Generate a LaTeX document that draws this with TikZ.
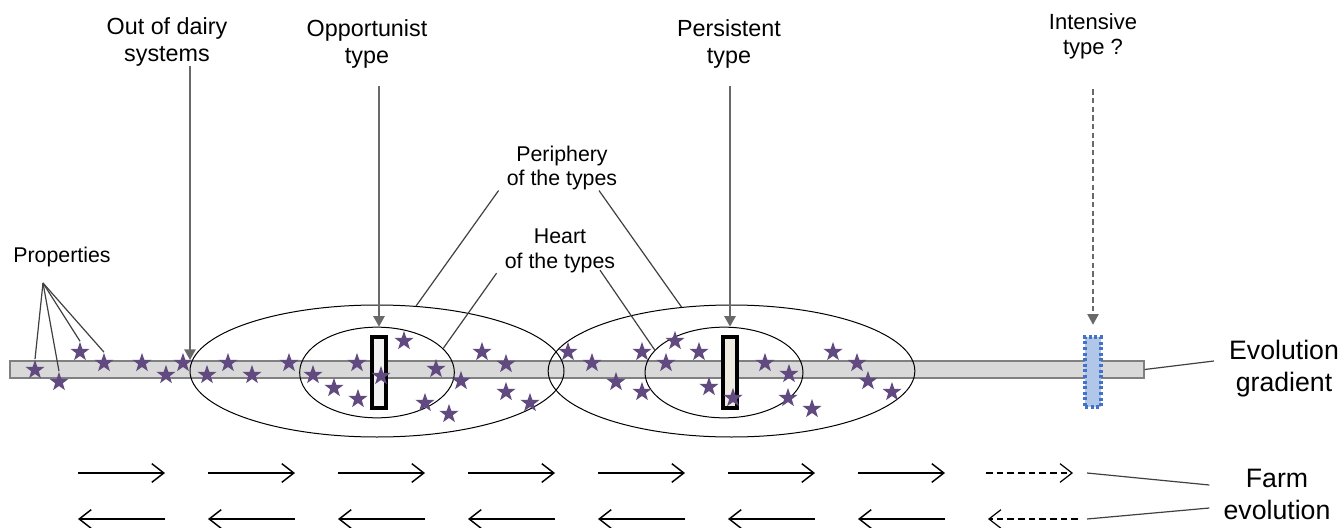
\documentclass[tikz,border=0pt]{standalone}
\usepackage{fontspec}
\setmainfont{Liberation Sans}
\usetikzlibrary{arrows.meta,shapes.geometric,calc}
\definecolor{starpurple}{RGB}{96,74,128}
\definecolor{bargray}{RGB}{217,217,217}
\definecolor{arrowgray}{RGB}{105,105,105}
\definecolor{boxblue}{RGB}{176,199,234}
\definecolor{dotblue}{RGB}{68,114,196}

\begin{document}
\begin{tikzpicture}[x=0.75pt,y=-0.75pt,
  toplbl/.style={font=\fontsize{17.5}{20}\selectfont, align=center, inner sep=0pt},
  midlbl/.style={font=\fontsize{16}{18.5}\selectfont, align=center, inner sep=0pt},
  sidelbl/.style={font=\fontsize{20}{24}\selectfont, align=center, inner sep=0pt},
  gradbar/.style={draw=gray, fill=bargray, line width=1pt, minimum width=850.5pt, minimum height=12.75pt, inner sep=0pt},
  ring/.style={ellipse, draw, line width=0.75pt, inner sep=0pt},
  typebox/.style={draw=black, line width=2.8pt, minimum width=10.5pt, minimum height=53pt, inner sep=0pt},
  guessbox/.style={draw=dotblue, fill=boxblue, line width=2.4pt, dash pattern=on 2.2pt off 2pt, minimum width=12pt, minimum height=52.5pt, inner sep=0pt},
  propstar/.style={star, star points=5, star point ratio=2.5, fill=starpurple, minimum size=15pt, inner sep=0pt},
  drop/.style={draw=arrowgray, line width=1.4pt, -{Triangle[length=8pt,width=8.5pt]}},
  tag/.style={draw=black!75, line width=0.9pt},
  flow/.style={line width=1.1pt, -{Straight Barb[length=9pt,width=14pt]}}]
\useasboundingbox (0,0) rectangle (1342,528);

% gradient and types
\node[gradbar] (grad) at (577,369.5) {};
\node[ring, minimum width=280.5pt, minimum height=99pt] (outL) at (377,371) {};
\node[ring, minimum width=275pt, minimum height=99pt] (outR) at (731.5,371) {};
\node[ring, minimum width=116pt, minimum height=68pt] (inL) at (377,372.5) {};
\node[ring, minimum width=118.5pt, minimum height=68pt] (inR) at (724,372.5) {};
\node[typebox, fill=black!5] (oppBox) at (379,372.5) {};
\node[typebox, fill={rgb,255:red,238;green,236;blue,225}] (persBox) at (730,372.5) {};
\node[guessbox] (intBox) at (1093,372) {};

% properties
\foreach \x/\y [count=\n] in {35/370, 59/382, 80/352, 104/363, 142/363, 166/375, 183/363,
    207/375, 228/363, 252/375, 289/363, 313/375, 334/388, 357/363, 358/399, 381/376,
    404/341, 436/369, 461/381, 425/403, 449/414, 482/352, 506/364, 506/392, 530/403,
    568/352, 592/363, 616/382, 642/352, 642/392, 666/363, 675/341, 699/352, 709/387,
    733/398, 765/363, 789/374, 788/398, 812/409, 833/352, 857/363, 868/381, 892/392}
  \node[propstar] (s\n) at (\x,\y) {};

% labels
\node[toplbl] (dairy) at (167,42) {Out of dairy\\systems};
\node[toplbl] (opp) at (367,44) {Opportunist\\type};
\node[toplbl] (pers) at (729,44) {Persistent\\type};
\node[toplbl, font=\fontsize{16.5}{19}\selectfont] (inten) at (1093,36) {Intensive\\type ?};
\node[midlbl] (peri) at (562,168) {Periphery\\of the types};
\node[midlbl] (heart) at (560,251) {Heart\\of the types};
\node[midlbl] (props) at (62,257) {Properties};
\node[sidelbl] (evol) at (1284,369) {Evolution\\gradient};
\node[sidelbl] (farm) at (1277,494) {Farm\\evolution};

% type arrows
\coordinate (dairyTip) at (190,360);
\draw[drop] (dairy.south -| dairyTip) -- (dairyTip);
\draw[drop] ($(opp.south -| oppBox)+(0,18)$) -- (oppBox |- inL.north);
\draw[drop] ($(pers.south -| persBox)+(0,18)$) -- (persBox |- inR.north);
\draw[drop, dash pattern=on 4pt off 2.5pt, line width=1pt] ($(inten.south)+(0,30)$) -- ([yshift=8pt]intBox.north);

% pointers
\coordinate (propHub) at (43,283);
\foreach \n in {1,...,4}
  \draw[tag] (propHub) -- (s\n.north);
\draw[tag] ([xshift=-6pt]peri.south west) -- (outL.59);
\draw[tag] ($(peri.south)+(37,0)$) -- (outR.128);
\draw[tag] ([xshift=-6pt]heart.south west) -- (inL.20);
\draw[tag] ($(heart.south)+(40,-3)$) -- (inR.162);
\draw[tag] (grad.east) -- ($(evol.west)+(-15,-8)$);

% farm evolution
\foreach \i in {0,...,6} {
  \draw[flow] (78+130*\i,473) -- ++(87,0);
  \draw[flow] (165+130*\i,519) -- ++(-87,0);
}
\draw[flow, dash pattern=on 5pt off 3pt, line width=0.9pt] (986,473) -- (1073,473);
\draw[flow, dash pattern=on 5pt off 3pt, line width=0.9pt] (1078,519) -- (988,519);
\coordinate (fwEnd) at (1087,473);
\coordinate (bwEnd) at (1087,519);
\draw[tag] (fwEnd) -- ($(farm.west)+(-14,-9)$);
\draw[tag] (bwEnd) -- ($(farm.west)+(-14,14)$);
\end{tikzpicture}
\end{document}
